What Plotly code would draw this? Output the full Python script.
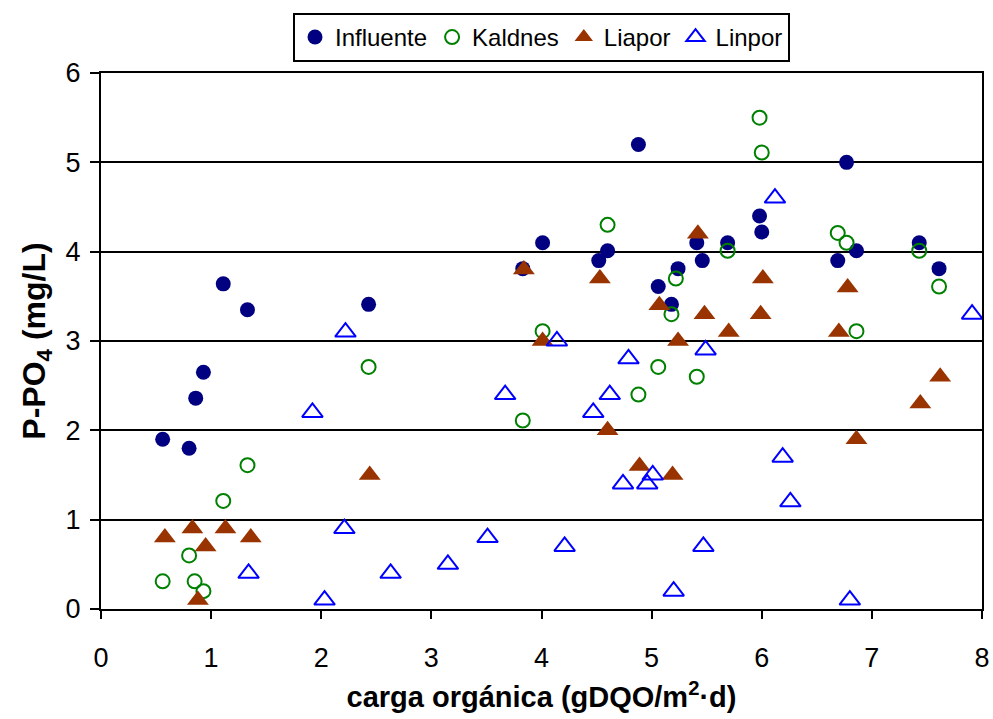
import plotly.graph_objects as go

# Phosphate (P-PO4) versus organic loading for the influent and three media
influente_x = [0.56, 0.80, 0.86, 0.93, 1.11, 1.33, 2.43, 3.83, 4.01, 4.52, 4.60, 4.88, 5.06,
               5.18, 5.24, 5.41, 5.46, 5.69, 5.98, 6.00, 6.69, 6.77, 6.86, 7.43, 7.61]
influente_y = [1.90, 1.80, 2.36, 2.65, 3.64, 3.35, 3.41, 3.81, 4.10, 3.90, 4.01, 5.20, 3.61,
               3.41, 3.81, 4.10, 3.90, 4.10, 4.40, 4.22, 3.90, 5.00, 4.01, 4.10, 3.81]

kaldnes_x = [0.56, 0.80, 0.85, 0.93, 1.11, 1.33, 2.43, 3.83, 4.01, 4.60, 4.88, 5.06,
             5.18, 5.22, 5.41, 5.69, 5.98, 6.00, 6.69, 6.77, 6.86, 7.43, 7.61]
kaldnes_y = [0.31, 0.60, 0.31, 0.20, 1.21, 1.61, 2.71, 2.11, 3.11, 4.30, 2.40, 2.71,
             3.30, 3.70, 2.60, 4.01, 5.50, 5.11, 4.21, 4.10, 3.11, 4.01, 3.61]

liapor_x = [0.58, 0.83, 0.88, 0.95, 1.13, 1.36, 2.44, 3.84, 4.01, 4.53, 4.60, 4.89, 5.07,
            5.19, 5.24, 5.42, 5.48, 5.70, 5.99, 6.01, 6.70, 6.78, 6.86, 7.44, 7.62]
liapor_y = [0.80, 0.90, 0.10, 0.70, 0.90, 0.80, 1.50, 3.80, 3.00, 3.70, 2.00, 1.60, 3.40,
            1.50, 3.00, 4.20, 3.30, 3.10, 3.30, 3.70, 3.10, 3.60, 1.90, 2.30, 2.60]

linpor_x = [1.34, 1.92, 2.03, 2.22, 2.21, 2.63, 3.15, 3.51, 3.67, 4.14, 4.21, 4.47, 4.62,
            4.74, 4.79, 4.96, 5.01, 5.20, 5.47, 5.49, 6.12, 6.19, 6.26, 6.80, 7.91]
linpor_y = [0.40, 2.20, 0.10, 3.10, 0.90, 0.40, 0.50, 0.80, 2.40, 3.00, 0.70, 2.20, 2.40,
            1.40, 2.80, 1.40, 1.50, 0.20, 0.70, 2.90, 4.60, 1.70, 1.20, 0.10, 3.30]

x_ticks = [0, 1, 2, 3, 4, 5, 6, 7, 8]
y_ticks = [0, 1, 2, 3, 4, 5, 6]

FONT = "Liberation Sans, Arial, sans-serif"

fig = go.Figure()
fig.add_trace(go.Scatter(
    x=influente_x, y=influente_y, mode="markers", name="Influente",
    marker=dict(symbol="circle", size=15, color="#000080", line=dict(width=0)),
))
fig.add_trace(go.Scatter(
    x=kaldnes_x, y=kaldnes_y, mode="markers", name="Kaldnes",
    marker=dict(symbol="circle-open", size=14, color="#008000", line=dict(width=2, color="#008000")),
))
fig.add_trace(go.Scatter(
    x=liapor_x, y=liapor_y, mode="markers", name="Liapor",
    marker=dict(symbol="triangle-up", size=19, color="#993300", line=dict(width=0)),
))
fig.add_trace(go.Scatter(
    x=linpor_x, y=linpor_y, mode="markers", name="Linpor",
    marker=dict(symbol="triangle-up-open", size=18, color="#0000FF", line=dict(width=2, color="#0000FF")),
))

fig.update_traces(cliponaxis=False)

fig.update_layout(
    width=993, height=719,
    margin=dict(l=101, r=11, t=73, b=110, autoexpand=False),
    paper_bgcolor="white", plot_bgcolor="white",
    font=dict(family=FONT, color="black"),
    showlegend=True,
    legend=dict(
        orientation="h", x=0.5, xanchor="center", y=1.112, yanchor="top",
        font=dict(family=FONT, size=24, color="black"),
        bordercolor="black", borderwidth=2, bgcolor="white",
        itemwidth=30, tracegroupgap=0,
    ),
    xaxis=dict(
        range=[0, 8], tickvals=x_ticks, ticktext=[str(v) for v in x_ticks],
        showgrid=False, zeroline=False,
        showline=True, linecolor="black", linewidth=2, mirror=True,
        ticks="outside", ticklen=8, tickwidth=2, tickcolor="black",
        ticklabelstandoff=16,
        tickfont=dict(family=FONT, size=27, color="black"),
        title=dict(text="<b>carga orgánica (gDQO/m<sup>2</sup>·d)</b>",
                   font=dict(family=FONT, size=29, color="black"), standoff=14),
    ),
    yaxis=dict(
        range=[0, 6], tickvals=y_ticks, ticktext=[str(v) for v in y_ticks],
        showgrid=True, gridcolor="black", gridwidth=2, zeroline=False,
        showline=True, linecolor="black", linewidth=2, mirror=True,
        ticks="outside", ticklen=9, tickwidth=2, tickcolor="black",
        ticklabelstandoff=4,
        tickfont=dict(family=FONT, size=27, color="black"),
        title=dict(text="<b>P-PO<sub>4</sub> (mg/L)</b>",
                   font=dict(family=FONT, size=32, color="black"), standoff=10),
    ),
)

fig.write_html("out.html")
